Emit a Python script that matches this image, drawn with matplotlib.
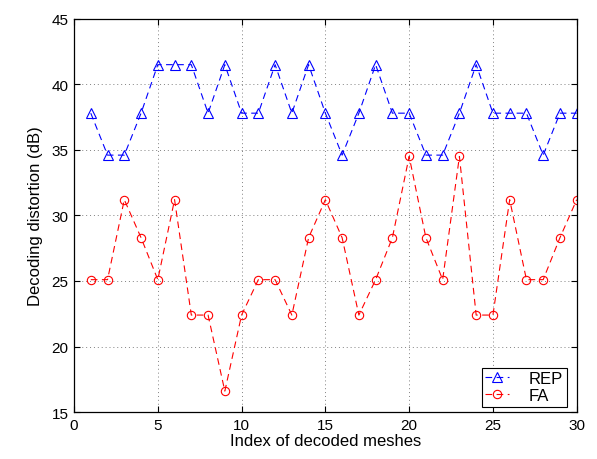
import matplotlib
matplotlib.use("Agg")
import matplotlib.pyplot as plt
import numpy as np

plt.rcParams['font.family'] = ['Liberation Sans', 'DejaVu Sans']

mesh_index = np.arange(1, 31)
rep_distortion = [37.8, 34.6, 34.6, 37.8, 41.5, 41.5, 41.5, 37.8, 41.5, 37.8,
                  37.8, 41.5, 37.8, 41.5, 37.8, 34.6, 37.8, 41.5, 37.8, 37.8,
                  34.6, 34.6, 37.8, 41.5, 37.8, 37.8, 37.8, 34.6, 37.8, 37.8]
fa_distortion = [25.1, 25.1, 31.2, 28.3, 25.1, 31.2, 22.4, 22.4, 16.6, 22.4,
                 25.1, 25.1, 22.4, 28.3, 31.2, 28.3, 22.4, 25.1, 28.3, 34.5,
                 28.3, 25.1, 34.5, 22.4, 22.4, 31.2, 25.1, 25.1, 28.3, 31.2]
x_ticks = [0, 5, 10, 15, 20, 25, 30]
y_ticks = [15, 20, 25, 30, 35, 40, 45]

fig = plt.figure(figsize=(5.97, 4.60), dpi=100)
ax = fig.add_axes([0.124, 0.102, 0.842, 0.855])

ax.plot(mesh_index, rep_distortion, linestyle=(0, (6, 4)), color='blue',
        linewidth=0.8, marker='^', markersize=7, markerfacecolor='none',
        markeredgewidth=0.8, label='REP')
ax.plot(mesh_index, fa_distortion, linestyle=(0, (6, 4)), color='red',
        linewidth=0.8, marker='o', markersize=6, markerfacecolor='none',
        markeredgewidth=0.8, label='FA')

ax.set_xlim(0, 30)
ax.set_ylim(15, 45)
ax.set_xticks(x_ticks)
ax.set_yticks(y_ticks)
ax.grid(True, linestyle=(0, (1, 3)), color='#808080', linewidth=0.7)
ax.tick_params(direction='in', top=True, right=True, labelsize=11, length=4,
               width=0.8, pad=4)
for s in ax.spines.values():
    s.set_linewidth(0.9)

ax.set_xlabel('Index of decoded meshes', fontsize=12, labelpad=1)
ax.set_ylabel('Decoding distortion (dB)', fontsize=12, labelpad=6)

leg = ax.legend(loc='lower right', fontsize=12, fancybox=False, framealpha=1,
                edgecolor='black', borderaxespad=0, handlelength=1.4,
                handletextpad=1.2, borderpad=0.22, labelspacing=0.12,
                bbox_to_anchor=(0.980, 0.013))
leg.get_frame().set_linewidth(0.8)

fig.savefig('out.png', dpi=100)
